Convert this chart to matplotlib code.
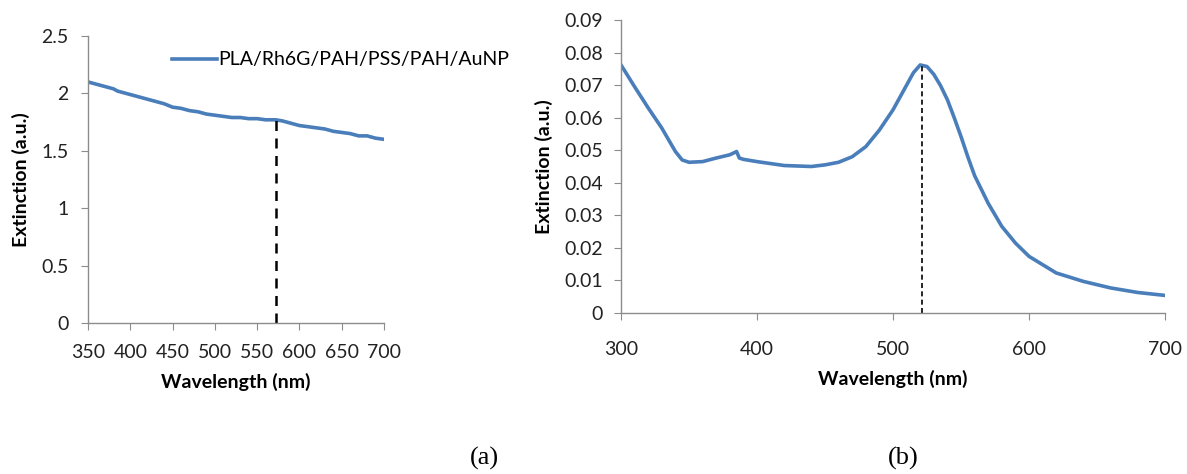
import numpy as np
import matplotlib
matplotlib.use("Agg")
import matplotlib.pyplot as plt

plt.rcParams["font.family"] = ["Lato", "DejaVu Sans"]

BLUE = "#4a7ebb"

# panel (a): PLA/Rh6G/PAH/PSS/PAH/AuNP film
wl_a = [350, 360, 370, 380, 385, 390, 400, 410, 420, 430, 440, 450, 460, 470,
        480, 490, 500, 510, 520, 530, 540, 550, 560, 572, 580, 590, 600, 610,
        620, 630, 640, 650, 660, 670, 680, 685, 690, 700]
ext_a = [2.10, 2.08, 2.06, 2.04, 2.02, 2.01, 1.99, 1.97, 1.95, 1.93, 1.91, 1.88,
         1.87, 1.85, 1.84, 1.82, 1.81, 1.80, 1.79, 1.79, 1.78, 1.78, 1.77, 1.77,
         1.76, 1.74, 1.72, 1.71, 1.70, 1.69, 1.67, 1.66, 1.65, 1.63, 1.63, 1.62,
         1.61, 1.60]
peak_a = 572
peak_a_val = 1.77

# panel (b): AuNP spectrum
wl_b = [300, 310, 320, 330, 340, 345, 350, 360, 370, 380, 385, 387, 390, 400,
        420, 440, 450, 460, 470, 480, 490, 500, 505, 510, 515, 520, 525, 530,
        535, 540, 545, 550, 555, 560, 570, 580, 590, 600, 620, 640, 660, 680, 700]
ext_b = [0.0762, 0.0695, 0.0630, 0.0568, 0.0496, 0.0470, 0.0463, 0.0465, 0.0476,
         0.0486, 0.0496, 0.0476, 0.0472, 0.0465, 0.0453, 0.0450, 0.0455, 0.0463,
         0.0480, 0.0511, 0.0562, 0.0624, 0.0662, 0.0700, 0.0738, 0.0762, 0.0757,
         0.0733, 0.0698, 0.0655, 0.0600, 0.0542, 0.0480, 0.0422, 0.0337, 0.0266,
         0.0215, 0.0174, 0.0123, 0.0097, 0.0077, 0.0063, 0.0054]
peak_b = 521
peak_b_val = 0.0762

W, H = 1187, 474
fig = plt.figure(figsize=(W / 100, H / 100), dpi=100)
ax_a = fig.add_axes([88 / W, 1 - 323 / H, 296 / W, 287 / H])
ax_b = fig.add_axes([621 / W, 1 - 313 / H, 544 / W, 293 / H])


def style(ax, xpad, ypad):
    for s in ("top", "right"):
        ax.spines[s].set_visible(False)
    for s in ("left", "bottom"):
        ax.spines[s].set_color("#8c8c8c")
        ax.spines[s].set_linewidth(1.0)
    ax.tick_params(direction="out", length=5, color="#8c8c8c",
                   labelsize=14, labelcolor="#222222")
    ax.tick_params(axis="x", pad=xpad)
    ax.tick_params(axis="y", pad=ypad)
    ax.set_xlabel("Wavelength (nm)", fontsize=14, fontweight="bold", labelpad=9)
    ax.set_ylabel("Extinction (a.u.)", fontsize=14, fontweight="bold", labelpad=8)


ax_a.plot(wl_a, ext_a, color=BLUE, lw=2.6, label="PLA/Rh6G/PAH/PSS/PAH/AuNP")
ax_a.plot([peak_a, peak_a], [0, peak_a_val], color="black", lw=1.8, ls=(0, (4, 3)))
ax_a.set_xlim(350, 700)
ax_a.set_ylim(0, 2.5)
ax_a.set_xticks(range(350, 701, 50))
ax_a.set_yticks([0, 0.5, 1, 1.5, 2, 2.5])
ax_a.set_yticklabels(["0", "0.5", "1", "1.5", "2", "2.5"])
style(ax_a, xpad=10, ypad=9)
ax_a.legend(loc="center left", bbox_to_anchor=((172 - 88) / 296, (323 - 60) / 287),
            frameon=False, fontsize=14, handlelength=2.3, handletextpad=0.1,
            borderpad=0, borderaxespad=0)

ax_b.plot(wl_b, ext_b, color=BLUE, lw=2.6)
ax_b.plot([peak_b, peak_b], [0, peak_b_val], color="black", lw=1.2, ls=(0, (3, 2)))
ax_b.set_xlim(300, 700)
ax_b.set_ylim(0, 0.09)
ax_b.set_xticks(range(300, 701, 100))
ax_b.set_yticks(np.arange(0, 0.091, 0.01))
ax_b.set_yticklabels(["0"] + [f"{v:.2f}" for v in np.arange(0.01, 0.091, 0.01)])
style(ax_b, xpad=15, ypad=8)

fig.text(484 / W, 1 - 458 / H, "(a)", ha="center", va="center",
         fontsize=19, family="Liberation Serif")
fig.text(903 / W, 1 - 458 / H, "(b)", ha="center", va="center",
         fontsize=19, family="Liberation Serif")

fig.savefig("out.png", dpi=100)
